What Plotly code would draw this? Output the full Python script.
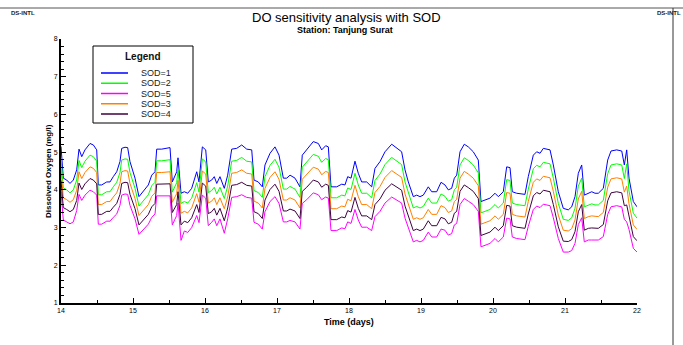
import plotly.graph_objects as go

# ---------------- data ----------------
time_days = [
    14.000, 14.032, 14.079, 14.125, 14.171, 14.218, 14.25, 14.288, 14.333, 14.403,
    14.449, 14.496, 14.518, 14.565, 14.635, 14.681, 14.726, 14.774, 14.819, 14.843,
    14.889, 14.926, 14.958, 15.028, 15.083, 15.143, 15.213, 15.26, 15.306, 15.329,
    15.399, 15.514, 15.546, 15.607, 15.625, 15.667, 15.713, 15.76, 15.815, 15.885,
    15.917, 15.963, 16.01, 16.046, 16.093, 16.129, 16.163, 16.208, 16.268, 16.315,
    16.371, 16.44, 16.51, 16.579, 16.649, 16.681, 16.74, 16.796, 16.833, 16.903,
    16.972, 17.028, 17.088, 17.135, 17.181, 17.25, 17.319, 17.351, 17.413, 17.504,
    17.574, 17.621, 17.676, 17.713, 17.75, 17.829, 17.899, 17.944, 17.982, 18.028,
    18.083, 18.129, 18.176, 18.246, 18.315, 18.361, 18.431, 18.5, 18.593, 18.685,
    18.731, 18.778, 18.824, 18.893, 18.94, 18.986, 19.032, 19.101, 19.149, 19.218,
    19.278, 19.333, 19.379, 19.426, 19.463, 19.496, 19.542, 19.601, 19.657, 19.726,
    19.796, 19.833, 19.889, 19.958, 20.028, 20.074, 20.143, 20.19, 20.236, 20.268,
    20.329, 20.399, 20.444, 20.49, 20.56, 20.607, 20.653, 20.699, 20.792, 20.838,
    20.907, 20.976, 21.046, 21.093, 21.139, 21.185, 21.232, 21.268, 21.324, 21.371,
    21.417, 21.463, 21.532, 21.593, 21.639, 21.718, 21.788, 21.824, 21.857, 21.889,
    21.949, 22.0,
]

sod_1 = [
    5.15, 4.31, 4.26, 4.17, 4.26, 4.53, 5.08, 4.88, 5.06, 5.23,
    5.19, 5.06, 4.13, 4.13, 4.21, 4.21, 4.35, 4.48, 4.75, 5.10,
    5.13, 5.12, 4.75, 4.31, 3.82, 3.95, 4.13, 4.39, 4.48, 5.08,
    5.08, 5.12, 4.21, 4.48, 4.85, 3.91, 3.95, 3.91, 4.04, 4.48,
    4.21, 5.14, 5.06, 4.21, 4.26, 4.35, 4.17, 4.35, 4.04, 4.39,
    5.08, 5.10, 5.19, 5.08, 5.06, 4.26, 4.21, 4.08, 4.66, 4.97,
    5.14, 4.92, 4.31, 4.31, 4.39, 4.31, 4.08, 4.92, 5.06, 5.28,
    5.23, 5.06, 5.17, 5.14, 4.08, 4.08, 4.15, 4.13, 4.35, 4.31,
    4.76, 4.44, 4.21, 4.21, 4.08, 4.57, 4.75, 5.01, 5.21, 5.06,
    5.01, 4.53, 4.21, 3.82, 3.86, 3.82, 3.86, 4.08, 3.95, 3.95,
    4.20, 4.13, 4.00, 4.04, 4.31, 4.39, 5.01, 5.21, 5.14, 5.01,
    4.79, 3.69, 3.73, 3.78, 3.91, 3.82, 3.95, 4.61, 4.59, 3.95,
    3.91, 3.88, 3.88, 4.35, 4.92, 5.01, 4.97, 5.10, 5.06, 4.66,
    3.95, 3.51, 3.47, 3.55, 3.82, 4.44, 4.66, 3.86, 3.91, 3.95,
    3.91, 3.91, 4.04, 4.79, 5.03, 5.06, 5.03, 4.66, 5.06, 4.31,
    3.69, 3.55,
]

sod_2 = [
    4.85, 4.05, 4.00, 3.92, 4.00, 4.26, 4.78, 4.59, 4.76, 4.92,
    4.88, 4.76, 3.87, 3.87, 3.95, 3.95, 4.08, 4.20, 4.46, 4.79,
    4.82, 4.81, 4.46, 4.04, 3.57, 3.70, 3.87, 4.11, 4.20, 4.77,
    4.77, 4.80, 3.94, 4.19, 4.55, 3.64, 3.69, 3.65, 3.78, 4.19,
    3.94, 4.82, 4.74, 3.93, 3.98, 4.07, 3.89, 4.07, 3.77, 4.10,
    4.76, 4.78, 4.86, 4.76, 4.74, 3.98, 3.93, 3.80, 4.35, 4.65,
    4.81, 4.60, 4.02, 4.02, 4.09, 4.02, 3.80, 4.60, 4.73, 4.94,
    4.89, 4.73, 4.83, 4.80, 3.79, 3.79, 3.86, 3.84, 4.05, 4.01,
    4.44, 4.13, 3.91, 3.91, 3.79, 4.25, 4.42, 4.67, 4.86, 4.72,
    4.67, 4.21, 3.91, 3.52, 3.56, 3.52, 3.56, 3.78, 3.65, 3.65,
    3.89, 3.83, 3.70, 3.74, 4.00, 4.07, 4.66, 4.85, 4.78, 4.66,
    4.45, 3.39, 3.43, 3.48, 3.61, 3.52, 3.65, 4.27, 4.25, 3.65,
    3.61, 3.58, 3.58, 4.02, 4.56, 4.65, 4.61, 4.73, 4.69, 4.31,
    3.64, 3.22, 3.19, 3.26, 3.51, 4.10, 4.31, 3.55, 3.60, 3.63,
    3.60, 3.60, 3.72, 4.43, 4.66, 4.69, 4.66, 4.30, 4.69, 3.97,
    3.38, 3.25,
]

sod_3 = [
    4.55, 3.79, 3.74, 3.67, 3.74, 3.99, 4.48, 4.30, 4.46, 4.61,
    4.57, 4.46, 3.61, 3.61, 3.69, 3.69, 3.81, 3.92, 4.17, 4.48,
    4.51, 4.50, 4.17, 3.77, 3.32, 3.45, 3.61, 3.83, 3.92, 4.46,
    4.46, 4.48, 3.67, 3.90, 4.25, 3.38, 3.43, 3.39, 3.52, 3.90,
    3.67, 4.50, 4.42, 3.65, 3.70, 3.79, 3.61, 3.79, 3.50, 3.81,
    4.44, 4.46, 4.53, 4.44, 4.42, 3.70, 3.65, 3.52, 4.04, 4.33,
    4.48, 4.28, 3.73, 3.73, 3.79, 3.73, 3.52, 4.28, 4.40, 4.60,
    4.55, 4.40, 4.49, 4.46, 3.50, 3.50, 3.57, 3.55, 3.75, 3.71,
    4.12, 3.82, 3.61, 3.61, 3.50, 3.93, 4.09, 4.33, 4.51, 4.38,
    4.33, 3.89, 3.61, 3.22, 3.26, 3.22, 3.26, 3.48, 3.35, 3.35,
    3.58, 3.53, 3.40, 3.44, 3.69, 3.75, 4.31, 4.49, 4.42, 4.31,
    4.11, 3.09, 3.13, 3.18, 3.31, 3.22, 3.35, 3.93, 3.91, 3.35,
    3.31, 3.28, 3.28, 3.69, 4.20, 4.29, 4.25, 4.36, 4.32, 3.96,
    3.33, 2.93, 2.91, 2.97, 3.20, 3.76, 3.96, 3.24, 3.29, 3.31,
    3.29, 3.29, 3.40, 4.07, 4.29, 4.32, 4.29, 3.94, 4.10, 3.63,
    3.07, 2.95,
]

sod_4 = [
    4.25, 3.53, 3.48, 3.42, 3.48, 3.72, 4.18, 4.01, 4.16, 4.30,
    4.26, 4.16, 3.35, 3.35, 3.43, 3.43, 3.54, 3.64, 3.88, 4.17,
    4.20, 4.19, 3.88, 3.50, 3.07, 3.20, 3.35, 3.55, 3.64, 4.15,
    4.15, 4.16, 3.40, 3.61, 3.95, 3.07, 3.17, 3.13, 3.26, 3.61,
    3.40, 4.18, 4.10, 3.37, 3.42, 3.51, 3.33, 3.51, 3.18, 3.52,
    4.12, 4.14, 4.20, 4.12, 4.10, 3.42, 3.37, 3.24, 3.73, 4.01,
    4.15, 3.96, 3.44, 3.44, 3.49, 3.44, 3.24, 3.96, 4.07, 4.26,
    4.21, 4.07, 4.15, 4.12, 3.21, 3.21, 3.28, 3.26, 3.45, 3.41,
    3.80, 3.51, 3.31, 3.31, 3.21, 3.61, 3.76, 3.99, 4.16, 4.04,
    3.99, 3.57, 3.31, 2.92, 2.96, 2.92, 2.96, 3.18, 3.05, 3.05,
    3.27, 3.23, 3.10, 3.14, 3.38, 3.43, 3.96, 4.13, 4.06, 3.96,
    3.77, 2.79, 2.83, 2.88, 3.01, 2.92, 3.05, 3.59, 3.57, 3.05,
    3.01, 2.98, 2.98, 3.36, 3.84, 3.93, 3.89, 3.99, 3.95, 3.61,
    3.02, 2.64, 2.63, 2.68, 2.89, 3.42, 3.61, 2.93, 2.98, 2.99,
    2.98, 2.98, 3.08, 3.71, 3.92, 3.95, 3.92, 3.58, 3.60, 3.29,
    2.76, 2.65,
]

sod_5 = [
    3.95, 3.20, 3.15, 3.10, 3.15, 3.45, 3.88, 3.72, 3.86, 3.99,
    3.95, 3.86, 3.09, 3.09, 3.17, 3.17, 3.27, 3.36, 3.59, 3.86,
    3.89, 3.88, 3.59, 3.23, 2.82, 2.95, 3.09, 3.27, 3.36, 3.84,
    3.84, 3.84, 3.07, 3.32, 3.65, 2.66, 2.91, 2.87, 3.00, 3.32,
    3.13, 3.86, 3.78, 3.05, 3.14, 3.23, 3.05, 3.23, 2.85, 3.23,
    3.80, 3.82, 3.87, 3.80, 3.78, 3.14, 3.09, 2.96, 3.42, 3.69,
    3.82, 3.64, 3.15, 3.15, 3.19, 3.15, 2.96, 3.64, 3.74, 3.92,
    3.87, 3.74, 3.81, 3.78, 2.92, 2.92, 2.99, 2.97, 3.15, 3.11,
    3.48, 3.20, 3.01, 3.01, 2.92, 3.29, 3.43, 3.65, 3.81, 3.70,
    3.65, 3.25, 3.01, 2.62, 2.66, 2.62, 2.66, 2.88, 2.75, 2.75,
    2.96, 2.93, 2.80, 2.84, 3.07, 3.11, 3.61, 3.77, 3.70, 3.61,
    3.43, 2.49, 2.53, 2.58, 2.71, 2.62, 2.75, 3.25, 3.23, 2.75,
    2.71, 2.68, 2.68, 3.03, 3.48, 3.57, 3.53, 3.62, 3.58, 3.26,
    2.71, 2.35, 2.35, 2.39, 2.58, 3.08, 3.26, 2.62, 2.67, 2.67,
    2.67, 2.67, 2.76, 3.35, 3.55, 3.58, 3.55, 3.22, 3.15, 2.95,
    2.45, 2.35,
]

series_names = ["SOD=1", "SOD=2", "SOD=5", "SOD=3", "SOD=4"]
series_values = [sod_1, sod_2, sod_5, sod_3, sod_4]
series_colors = ["#0000ff", "#00ff00", "#ff00ff", "#ff8000", "#400040"]

x_ticks = [14, 15, 16, 17, 18, 19, 20, 21, 22]
y_ticks = [1, 2, 3, 4, 5, 6, 7, 8]

# ---------------- layout geometry ----------------
W, H = 683, 345
L, R, T, B = 61, 637, 39, 303
FONT = "Liberation Sans, Arial, Helvetica, sans-serif"


def px(x):
    return (x - L) / (R - L)


def py(y):
    return (B - y) / (B - T)


fig = go.Figure()
for name, vals, col in zip(series_names, series_values, series_colors):
    fig.add_trace(go.Scatter(x=time_days, y=vals, mode="lines", name=name,
                             line=dict(color=col, width=1), showlegend=False,
                             hoverinfo="x+y+name"))

annotations = []
shapes = []

# titles
annotations.append(dict(text="DO sensitivity analysis with SOD", x=px(346), y=py(18),
                        xref="paper", yref="paper", showarrow=False, xanchor="center",
                        yanchor="middle", font=dict(size=13, family=FONT, color="black")))
annotations.append(dict(text="<b>Station: Tanjung Surat</b>", x=px(345), y=py(30),
                        xref="paper", yref="paper", showarrow=False, xanchor="center",
                        yanchor="middle", font=dict(size=9, family=FONT, color="black")))
annotations.append(dict(text="<b>DS-INTL</b>", x=px(9), y=py(13), xref="paper", yref="paper",
                        showarrow=False, xanchor="left", yanchor="middle",
                        font=dict(size=6, family=FONT, color="#222")))
annotations.append(dict(text="<b>DS-INTL</b>", x=px(683), y=py(13), xref="paper", yref="paper",
                        showarrow=False, xanchor="right", yanchor="middle",
                        font=dict(size=6, family=FONT, color="#222")))
# axis titles
annotations.append(dict(text="<b>Time (days)</b>", x=px(349), y=py(322), xref="paper", yref="paper",
                        showarrow=False, xanchor="center", yanchor="middle",
                        font=dict(size=9, family=FONT, color="black")))
annotations.append(dict(text="<b>Dissolved Oxygen (mg/l)</b>", x=px(48), y=py(171), xref="paper",
                        yref="paper", showarrow=False, xanchor="center", yanchor="middle",
                        textangle=-90, font=dict(size=8, family=FONT, color="black")))

# page frame lines
shapes.append(dict(type="line", xref="paper", yref="paper", x0=px(0), x1=px(683), y0=py(8), y1=py(8),
                   line=dict(color="#555", width=1)))
shapes.append(dict(type="line", xref="paper", yref="paper", x0=px(673), x1=px(673), y0=py(8), y1=py(345),
                   line=dict(color="#333", width=1)))

# legend box
shapes.append(dict(type="rect", xref="paper", yref="paper", x0=px(93), x1=px(193), y0=py(123), y1=py(46),
                   line=dict(color="black", width=1), fillcolor="white", layer="above"))
annotations.append(dict(text="<b>Legend</b>", x=px(143), y=py(56), xref="paper", yref="paper",
                        showarrow=False, xanchor="center", yanchor="middle",
                        font=dict(size=10, family=FONT, color="#111")))
for i, (name, col) in enumerate(zip(series_names, series_colors)):
    yy = 73 + i * 10.25
    shapes.append(dict(type="line", xref="paper", yref="paper", x0=px(101), x1=px(128),
                       y0=py(yy), y1=py(yy), line=dict(color=col, width=1.5), layer="above"))
    annotations.append(dict(text=name, x=px(139), y=py(yy), xref="paper", yref="paper",
                            showarrow=False, xanchor="left", yanchor="middle",
                            font=dict(size=9, family=FONT, color="#222")))

fig.update_layout(
    width=W, height=H,
    margin=dict(l=L, r=W - R, t=T, b=H - B, pad=0),
    paper_bgcolor="white", plot_bgcolor="white",
    font=dict(family=FONT, color="black"),
    annotations=annotations, shapes=shapes,
    showlegend=False,
)
fig.update_xaxes(range=[14, 22], tickmode="array", tickvals=x_ticks,
                 ticktext=[str(v) for v in x_ticks], ticks="inside", ticklen=5, tickwidth=1,
                 tickcolor="black", showline=True, linewidth=2, linecolor="black",
                 showgrid=False, zeroline=False, tickfont=dict(size=7, family=FONT, color="black"),
                 minor=dict(tick0=14, dtick=0.5, ticks="inside", ticklen=3, tickwidth=1,
                            tickcolor="black", showgrid=False))
fig.update_yaxes(range=[1, 8], tickmode="array", tickvals=y_ticks,
                 ticktext=[str(v) for v in y_ticks], ticks="inside", ticklen=5, tickwidth=1,
                 tickcolor="black", showline=True, linewidth=2, linecolor="black",
                 showgrid=False, zeroline=False, tickfont=dict(size=7, family=FONT, color="black"),
                 minor=dict(tick0=1, dtick=0.2, ticks="inside", ticklen=3, tickwidth=1,
                            tickcolor="black", showgrid=False))

fig.write_html("out.html")
